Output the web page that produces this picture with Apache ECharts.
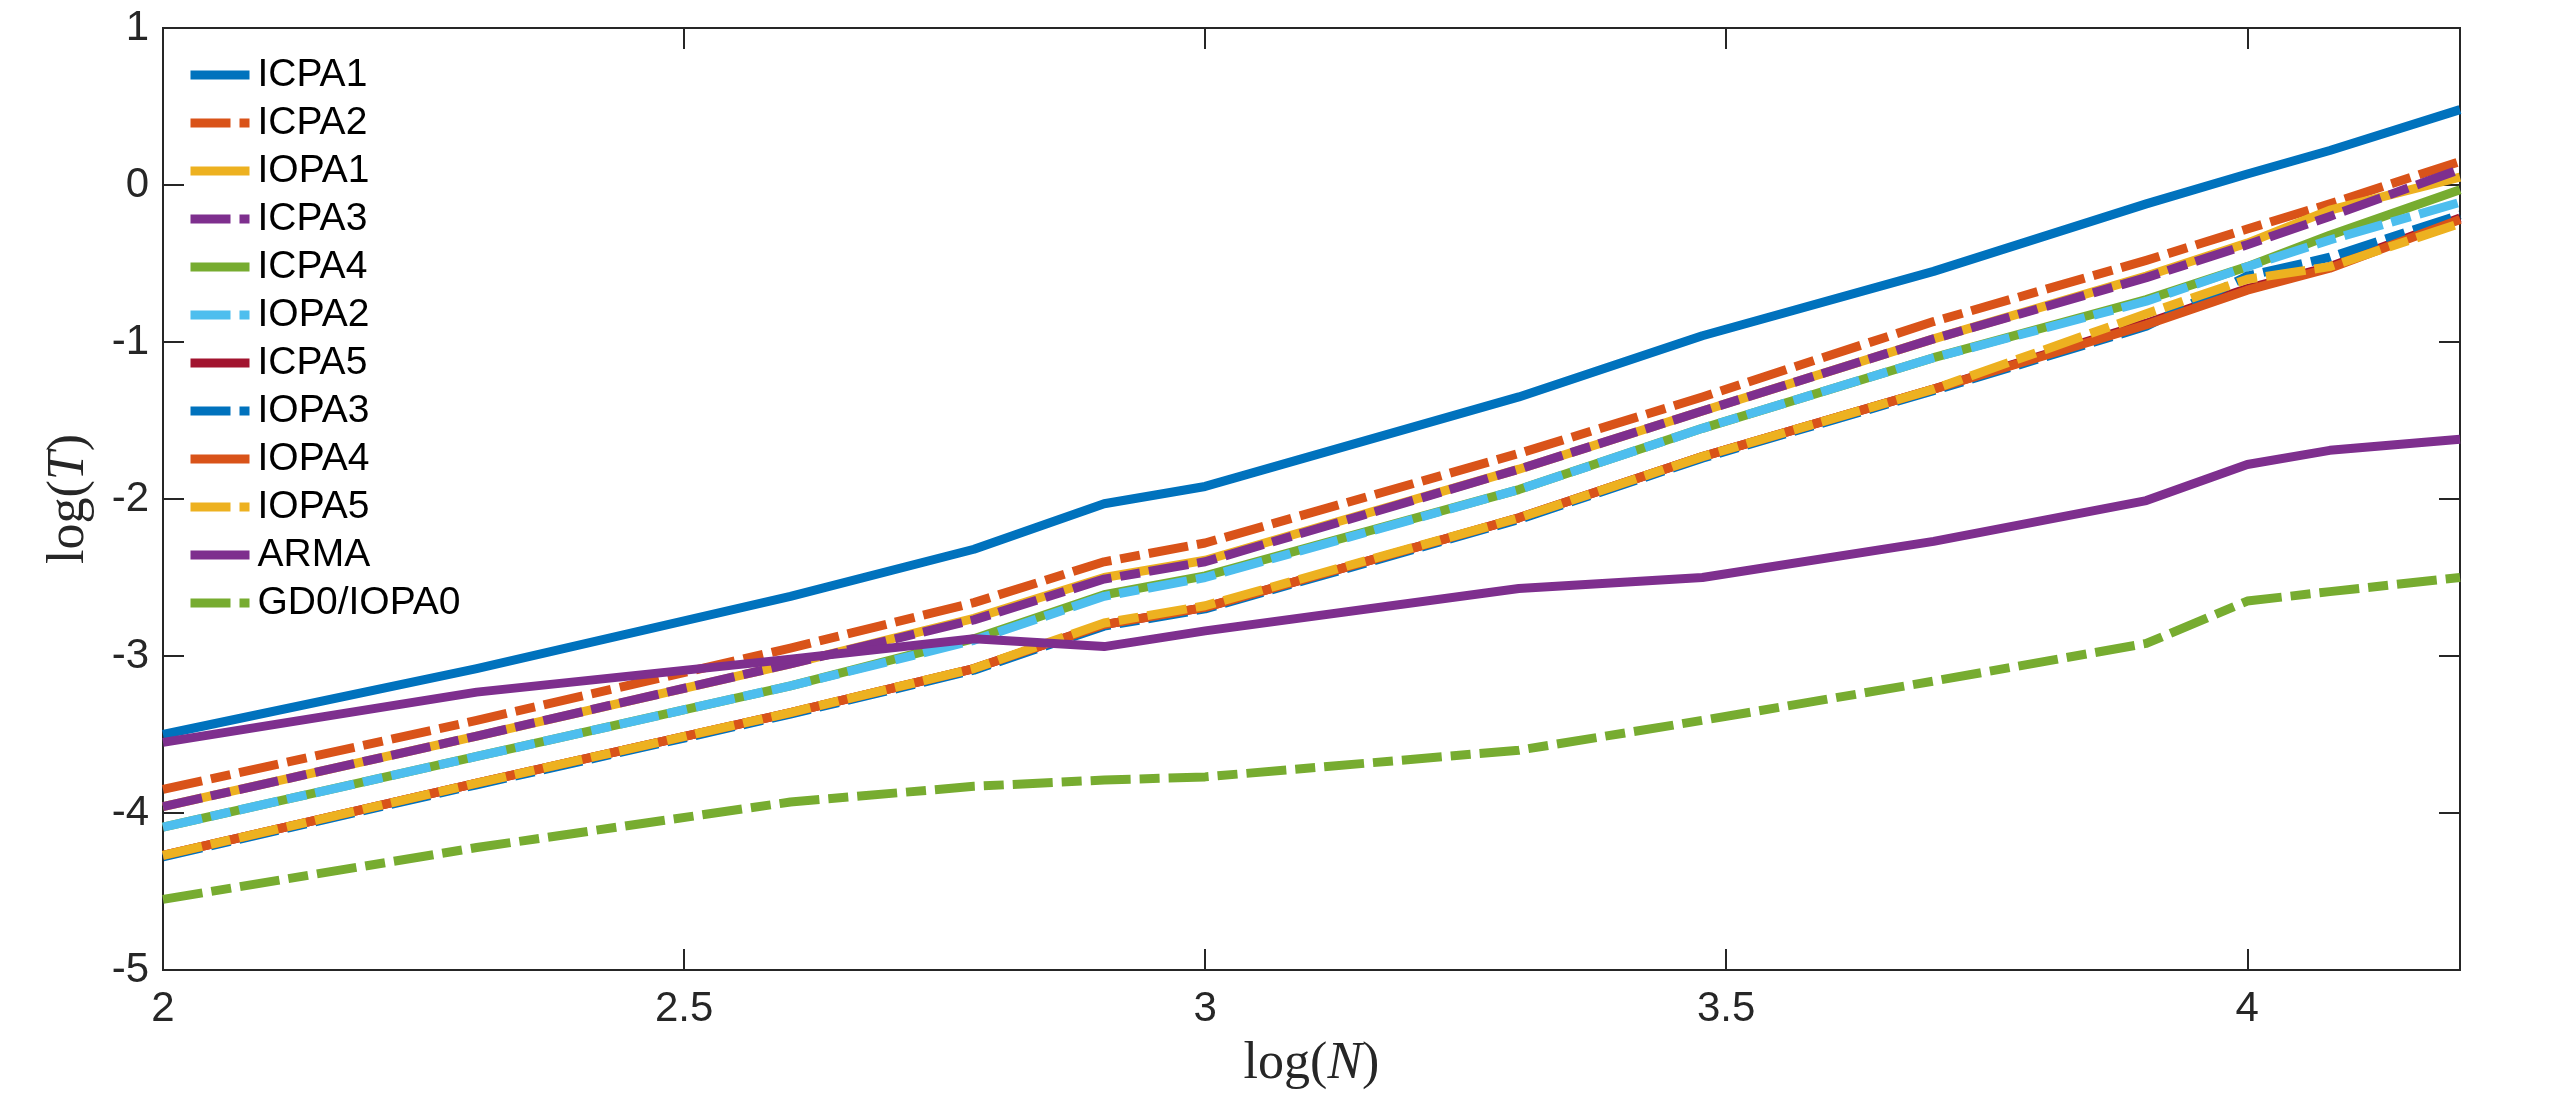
<!DOCTYPE html>
<html>
<head>
<meta charset="utf-8">
<title>log(T) vs log(N)</title>
<script src="https://cdn.jsdelivr.net/npm/echarts@6/dist/echarts.min.js"></script>
<style>
  html, body { margin: 0; padding: 0; background: #ffffff; }
  #chart { width: 2560px; height: 1104px; }
</style>
</head>
<body>
<div id="chart"></div>
<script>
// log10 of problem size N = 100 ... 16000
var logN = [2, 2.30103, 2.60206, 2.77815, 2.90309, 3, 3.30103, 3.47712, 3.69897, 3.90309, 4, 4.07918, 4.20412];

// log10 of run time
var icpa1 = [-3.50, -3.08, -2.62, -2.32, -2.03, -1.92, -1.35, -0.96, -0.55, -0.12, 0.07, 0.22, 0.48];
var icpa2 = [-3.85, -3.41, -2.95, -2.66, -2.40, -2.28, -1.71, -1.35, -0.87, -0.48, -0.28, -0.12, 0.15];
var iopa1 = [-3.96, -3.51, -3.05, -2.76, -2.50, -2.39, -1.81, -1.44, -0.98, -0.58, -0.37, -0.16, 0.05];
var icpa3 = [-3.96, -3.51, -3.05, -2.77, -2.51, -2.40, -1.81, -1.44, -0.98, -0.59, -0.38, -0.20, 0.10];
var icpa4 = [-4.09, -3.64, -3.19, -2.89, -2.61, -2.49, -1.94, -1.55, -1.10, -0.73, -0.52, -0.32, -0.03];
var iopa2 = [-4.09, -3.64, -3.19, -2.90, -2.62, -2.50, -1.94, -1.55, -1.10, -0.74, -0.52, -0.35, -0.11];
var icpa5 = [-4.27, -3.81, -3.36, -3.08, -2.80, -2.69, -2.12, -1.73, -1.30, -0.88, -0.66, -0.52, -0.21];
var iopa3 = [-4.28, -3.82, -3.37, -3.09, -2.81, -2.70, -2.13, -1.74, -1.31, -0.90, -0.58, -0.46, -0.19];
var iopa4 = [-4.27, -3.81, -3.36, -3.08, -2.80, -2.69, -2.12, -1.73, -1.30, -0.89, -0.67, -0.53, -0.22];
var iopa5 = [-4.27, -3.81, -3.36, -3.08, -2.79, -2.68, -2.12, -1.73, -1.30, -0.82, -0.60, -0.52, -0.245];
var arma  = [-3.55, -3.23, -3.02, -2.89, -2.94, -2.84, -2.57, -2.50, -2.27, -2.01, -1.78, -1.69, -1.62];
var gd0   = [-4.55, -4.22, -3.93, -3.83, -3.79, -3.77, -3.60, -3.41, -3.16, -2.92, -2.65, -2.59, -2.50];

var xTicks = [2, 2.5, 3, 3.5, 4];
var yTicks = [-5, -4, -3, -2, -1, 0, 1];

// MATLAB default line colours
var C = {
  blue: '#0072BD', orange: '#D95319', yellow: '#EDB120', purple: '#7E2F8E',
  green: '#77AC30', cyan: '#4DBEEE', red: '#A2142F'
};
var DASHDOT = [40, 9, 20, 9];
var AXIS = '#262626';

var lines = [
  { name: 'ICPA1',     data: icpa1, color: C.blue,   dash: false },
  { name: 'ICPA2',     data: icpa2, color: C.orange, dash: true },
  { name: 'IOPA1',     data: iopa1, color: C.yellow, dash: false },
  { name: 'ICPA3',     data: icpa3, color: C.purple, dash: true },
  { name: 'ICPA4',     data: icpa4, color: C.green,  dash: false },
  { name: 'IOPA2',     data: iopa2, color: C.cyan,   dash: true },
  { name: 'ICPA5',     data: icpa5, color: C.red,    dash: false },
  { name: 'IOPA3',     data: iopa3, color: C.blue,   dash: true },
  { name: 'IOPA4',     data: iopa4, color: C.orange, dash: false },
  { name: 'IOPA5',     data: iopa5, color: C.yellow, dash: true },
  { name: 'ARMA',      data: arma,  color: C.purple, dash: false },
  { name: 'GD0/IOPA0', data: gd0,   color: C.green,  dash: true }
];

function pairs(ys) {
  return logN.map(function (x, i) { return [x, ys[i]]; });
}

var series = lines.map(function (l) {
  return {
    name: l.name,
    type: 'line',
    data: pairs(l.data),
    symbol: 'none',
    showSymbol: false,
    animation: false,
    color: l.color,
    lineStyle: {
      color: l.color,
      width: 9,
      type: l.dash ? DASHDOT : 'solid',
      cap: 'butt',
      join: 'round'
    },
    emphasis: { disabled: true }
  };
});

var tickStyle = { show: true, inside: true, length: 21, lineStyle: { color: AXIS, width: 2 } };
var noLine = { show: false, onZero: false };
var xMin = xTicks[0], xMax = logN[logN.length - 1];

function xLabel(v) {
  return Math.abs(v * 2 - Math.round(v * 2)) < 1e-6 ? String(v) : '';
}

var nameRich = {
  r: { fontFamily: 'Liberation Serif', fontSize: 52, color: AXIS },
  i: { fontFamily: 'Liberation Serif', fontSize: 52, fontStyle: 'italic', color: AXIS }
};

var option = {
  backgroundColor: '#ffffff',
  animation: false,
  grid: {
    left: 163, right: 100, top: 28, bottom: 134,
    show: true, borderColor: AXIS, borderWidth: 2, backgroundColor: 'transparent'
  },
  legend: {
    orient: 'vertical',
    left: 181,
    top: 50,
    itemWidth: 59,
    itemHeight: 14,
    itemGap: 8,
    selectedMode: false,
    data: lines.map(function (l) { return l.name; }),
    itemStyle: { opacity: 0 },
    lineStyle: { width: 'inherit', type: 'inherit', cap: 'butt' },
    textStyle: { fontFamily: 'Liberation Sans', fontSize: 39, color: '#000000', lineHeight: 40, padding: [0, 0, 0, 3] }
  },
  xAxis: [{
    type: 'value',
    min: xMin, max: xMax, interval: 0.5,
    name: '{r|log(}{i|N}{r|)}',
    nameLocation: 'middle',
    nameGap: 68,
    nameTextStyle: { rich: nameRich },
    axisLine: noLine,
    axisTick: tickStyle,
    splitLine: { show: false },
    axisLabel: {
      showMaxLabel: false,
      margin: 18,
      fontFamily: 'Liberation Sans', fontSize: 42, color: AXIS,
      formatter: xLabel
    }
  }, {
    type: 'value', position: 'top',
    min: xMin, max: xMax, interval: 0.5,
    axisLine: noLine,
    axisTick: tickStyle,
    axisLabel: { show: false },
    splitLine: { show: false }
  }],
  yAxis: [{
    type: 'value',
    min: yTicks[0], max: yTicks[yTicks.length - 1], interval: 1,
    name: '{r|log(}{i|T}{r|)}',
    nameLocation: 'middle',
    nameGap: 68,
    nameRotate: 90,
    nameTextStyle: { rich: nameRich },
    axisLine: noLine,
    axisTick: tickStyle,
    splitLine: { show: false },
    axisLabel: {
      margin: 14,
      fontFamily: 'Liberation Sans', fontSize: 42, color: AXIS
    }
  }, {
    type: 'value', position: 'right',
    min: yTicks[0], max: yTicks[yTicks.length - 1], interval: 1,
    axisLine: noLine,
    axisTick: tickStyle,
    axisLabel: { show: false },
    splitLine: { show: false }
  }],
  series: series
};

var chart = echarts.init(document.getElementById('chart'), null, { renderer: 'canvas' });
chart.setOption(option);
</script>
</body>
</html>
